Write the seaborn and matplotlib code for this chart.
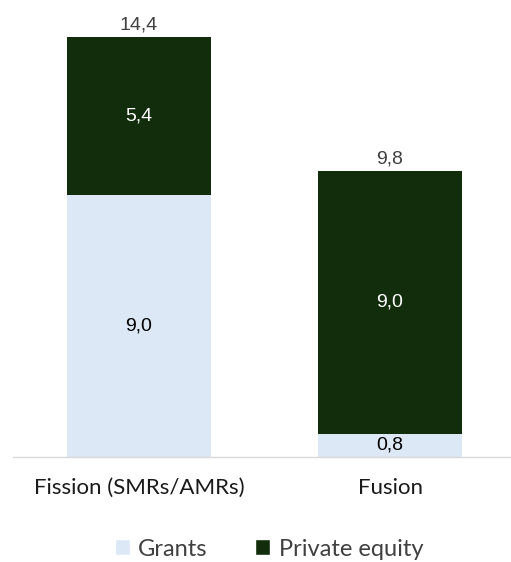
import matplotlib
matplotlib.use("Agg")
import matplotlib.pyplot as plt
import seaborn as sns
import pandas as pd
from matplotlib.patches import Patch

# Data (billions)
categories = ["Fission (SMRs/AMRs)", "Fusion"]
grants = [9.0, 0.8]
private_equity = [5.4, 9.0]
totals = [g + p for g, p in zip(grants, private_equity)]

light = "#DCE8F5"
dark = "#112D0B"

df = pd.DataFrame({"category": categories, "grants": grants,
                   "pe": private_equity, "total": totals})

sns.set_theme(style="white")
plt.rcParams["font.family"] = ["Lato", "DejaVu Sans"]

fig = plt.figure(figsize=(5.11, 5.62), dpi=100)
ax = fig.add_axes([13 / 511, 1 - 457 / 562, 498 / 511, (457 - 20) / 562])

# stacked bars: totals in dark, grants drawn over the bottom part
sns.barplot(data=df, x="category", y="total", color=dark, width=0.574,
            saturation=1, ax=ax, edgecolor="none")
sns.barplot(data=df, x="category", y="grants", color=light, width=0.574,
            saturation=1, ax=ax, edgecolor="none")

ax.set_xlim(-0.502, 1.482)
ax.set_ylim(0, (457 - 20) / (420 / 14.4))

def fmt(v):
    return f"{v:.1f}".replace(".", ",")

val_font = dict(family=["Liberation Sans"], fontsize=14)
for i, (g, p, t) in enumerate(zip(grants, private_equity, totals)):
    ax.text(i, g / 2, fmt(g), ha="center", va="center", color="#000000", **val_font)
    ax.text(i, g + p / 2, fmt(p), ha="center", va="center", color="white", **val_font)
    ax.text(i, t + 0.12, fmt(t), ha="center", va="bottom", color="#404040", **val_font)

ax.set_xlabel("")
ax.set_ylabel("")
ax.set_yticks([])
ax.tick_params(axis="x", length=0, pad=15, labelsize=16, labelcolor="#1a1a1a")
for s in ["top", "right", "left"]:
    ax.spines[s].set_visible(False)
ax.spines["bottom"].set_color("#D9D9D9")
ax.spines["bottom"].set_linewidth(1)

handles = [Patch(facecolor=light, label="Grants"),
           Patch(facecolor=dark, label="Private equity")]
fig.legend(handles=handles, loc="center", bbox_to_anchor=(0.526, 1 - 549 / 562),
           ncol=2, frameon=False, fontsize=17, handlelength=0.65,
           handleheight=0.65, handletextpad=0.35, columnspacing=2.0,
           labelcolor="#404040")

fig.savefig("out.png", dpi=100)
